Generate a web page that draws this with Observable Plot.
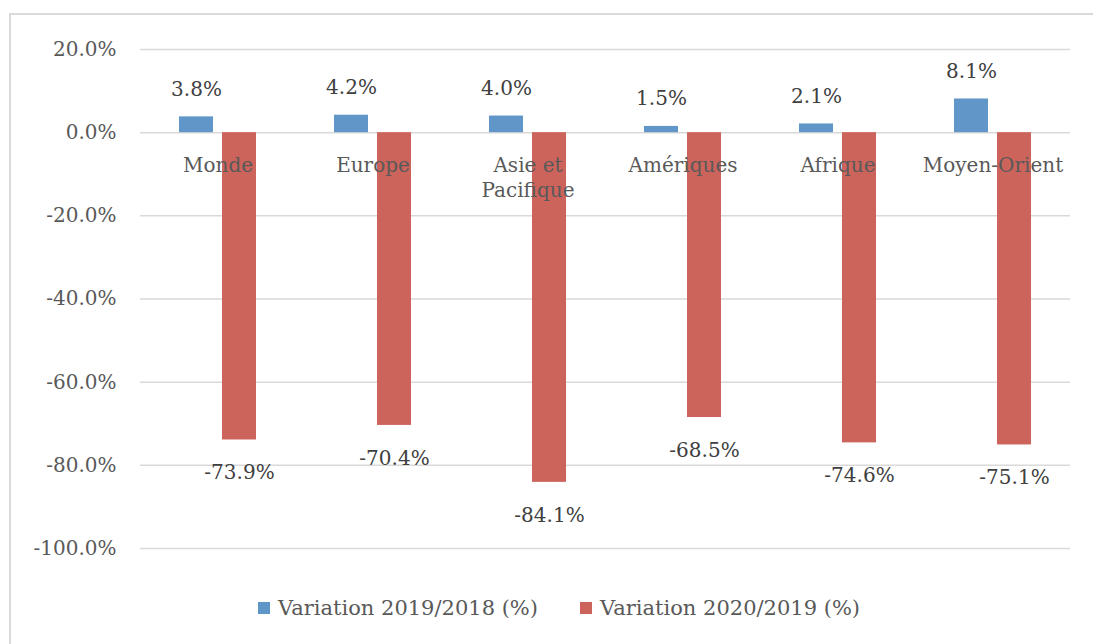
<!DOCTYPE html>
<html>
<head>
<meta charset="utf-8">
<script src="https://cdn.jsdelivr.net/npm/d3@7"></script>
<script src="https://cdn.jsdelivr.net/npm/@observablehq/plot@0.6"></script>
<style>
  html, body { margin: 0; padding: 0; background: #fff; overflow: hidden; }
  #wrap { position: relative; width: 1093px; height: 644px; overflow: hidden; font-family: "DejaVu Serif", serif; }
  #frame { position: absolute; left: 9px; top: 13px; width: 1200px; height: 800px; border: 2px solid #D9D9D9; box-sizing: border-box; }
  #chart { position: absolute; left: 0; top: 0; }
  #legend { position: absolute; left: 258px; top: 596px; display: flex; align-items: center; font-size: 21px; color: #595959; white-space: nowrap; }
  .item { display: flex; align-items: center; margin-right: 42px; }
  .sw { width: 12px; height: 12px; margin-right: 8px; }
</style>
</head>
<body>
<div id="wrap">
  <div id="frame"></div>
  <div id="chart"></div>
  <div id="legend"></div>
</div>
<script>
const categories = ["Monde", "Europe", "Asie et Pacifique", "Amériques", "Afrique", "Moyen-Orient"];
const categoryLabels = ["Monde", "Europe", "Asie et\nPacifique", "Amériques", "Afrique", "Moyen-Orient"];
const seriesNames = ["Variation 2019/2018 (%)", "Variation 2020/2019 (%)"];
const seriesColors = ["#6196C8", "#CD645C"];
const values2019 = [3.8, 4.2, 4.0, 1.5, 2.1, 8.1];
const values2020 = [-73.9, -70.4, -84.1, -68.5, -74.6, -75.1];
const yTicks = [-100, -80, -60, -40, -20, 0, 20];

const rows = [];
categories.forEach((c, i) => {
  rows.push({cat: c, series: seriesNames[0], value: values2019[i]});
  rows.push({cat: c, series: seriesNames[1], value: values2020[i]});
});
const catRows = categories.map((c, i) => ({cat: c, label: categoryLabels[i]}));
const fmt = d => d.toFixed(1) + "%";

const chart = Plot.plot({
  width: 1093,
  height: 585,
  marginTop: 49,
  marginBottom: 37,
  marginLeft: 139,
  marginRight: 23,
  style: {fontFamily: "DejaVu Serif, serif", fontSize: "20px", color: "#595959", background: "transparent"},
  fx: {domain: categories, padding: 0, axis: null, label: null},
  x: {domain: seriesNames, paddingInner: 0.2045, paddingOuter: 0.864, axis: null, label: null},
  y: {domain: [-100, 20], axis: null, label: null},
  color: {domain: seriesNames, range: seriesColors},
  marks: [
    Plot.ruleY(yTicks, {stroke: "#D9D9D9", strokeWidth: 1.5}),
    Plot.axisY({ticks: yTicks, tickFormat: fmt, tickSize: 0, tickPadding: 24, fontSize: 20, fill: "#595959", label: null, facetAnchor: "left"}),
    Plot.barY(rows, {fx: "cat", x: "series", y: "value", fill: "series"}),
    Plot.text(catRows, {fx: "cat", y: () => 0, text: "label", lineAnchor: "top", dy: 21, lineHeight: 1.26, fontSize: 20, fill: "#595959"}),
    Plot.text(rows.filter(d => d.value >= 0), {fx: "cat", x: "series", y: "value", text: d => fmt(d.value), lineAnchor: "bottom", dy: -21, fontSize: 20, fill: "#404040"}),
    Plot.text(rows.filter(d => d.value < 0), {fx: "cat", x: "series", y: "value", text: d => fmt(d.value), lineAnchor: "top", dy: 25, fontSize: 20, fill: "#404040"})
  ]
});
document.getElementById("chart").appendChild(chart);

const legend = document.getElementById("legend");
seriesNames.forEach((s, i) => {
  const item = document.createElement("div");
  item.className = "item";
  const sw = document.createElement("span");
  sw.className = "sw";
  sw.style.background = seriesColors[i];
  const t = document.createElement("span");
  t.textContent = s;
  item.appendChild(sw);
  item.appendChild(t);
  legend.appendChild(item);
});
</script>
</body>
</html>
